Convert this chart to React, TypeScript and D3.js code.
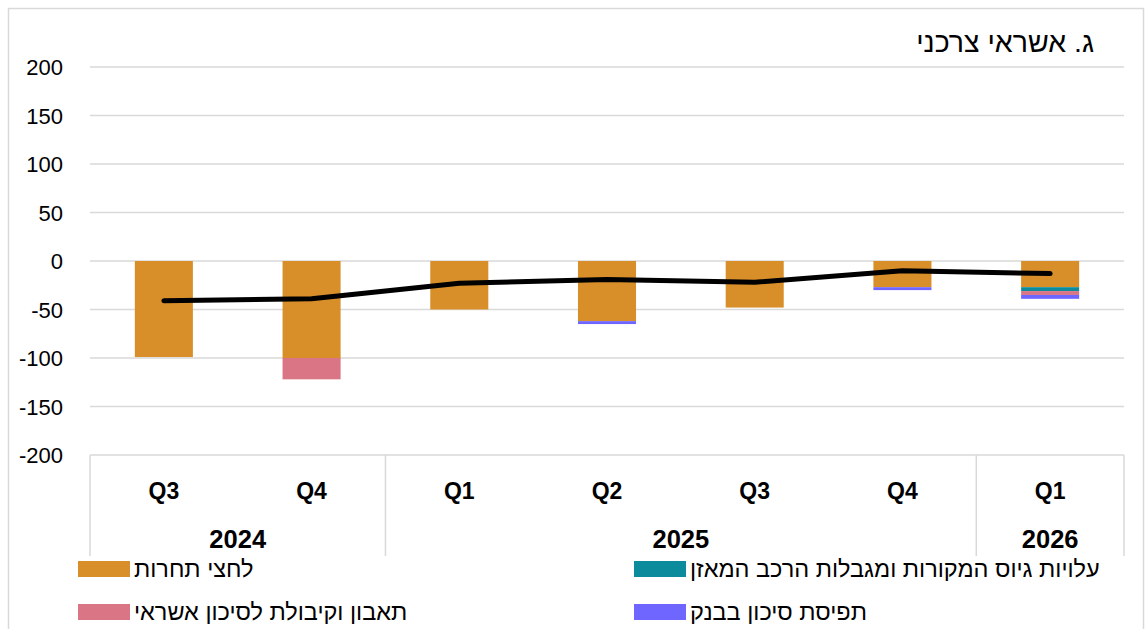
import React from 'react';
import * as d3 from 'd3';

const quarters = ['Q3', 'Q4', 'Q1', 'Q2', 'Q3', 'Q4', 'Q1'];
const years = ['2024', '2024', '2025', '2025', '2025', '2025', '2026'];

const competition = [-99, -100, -50, -62, -48, -27, -27];
const fundingCosts = [0, 0, 0, 0, 0, 0, -4];
const riskAppetite = [0, -22, 0, 0, 0, 0, -4];
const riskPerception = [0, 0, 0, -3, 0, -3, -4];
const total = [-41, -39, -23, -19, -22, -10, -13];

const seriesNames = [
  'לחצי תחרות',
  'עלויות גיוס המקורות ומגבלות הרכב המאזן',
  'תאבון וקיבולת לסיכון אשראי',
  'תפיסת סיכון בבנק',
];
const seriesColors = ['#D88F2A', '#0C8B9C', '#D97585', '#6F66FF'];
const yTicks = [200, 150, 100, 50, 0, -50, -100, -150, -200];
const title = 'ג. אשראי צרכני';

const W = 1146;
const H = 629;
const plot = { left: 90, right: 1124, top: 67, bottom: 455 };
const font = '"Liberation Sans", Arial, sans-serif';
const gridColor = '#D9D9D9';

type Row = { key: string; a: number; b: number; c: number; d: number };

export default function App() {
  const keys = quarters.map((q, i) => `${years[i]}-${q}`);
  const rows: Row[] = keys.map((k, i) => ({
    key: k,
    a: competition[i],
    b: fundingCosts[i],
    c: riskAppetite[i],
    d: riskPerception[i],
  }));

  const cell = d3.scaleBand<string>().domain(keys).range([plot.left, plot.right]).padding(0);
  const xBar = d3
    .scaleBand<string>()
    .domain(keys)
    .range([plot.left, plot.right])
    .paddingInner(0.607)
    .paddingOuter(0.3035);
  const y = d3.scaleLinear().domain([-200, 200]).range([plot.bottom, plot.top]);

  const stacked = d3
    .stack<Row>()
    .keys(['a', 'b', 'c', 'd'])
    .offset(d3.stackOffsetDiverging)(rows);

  const line = d3
    .line<number>()
    .x((_, i) => (cell(keys[i]) ?? 0) + cell.bandwidth() / 2)
    .y((d) => y(d));

  // year groups
  const groups: { year: string; start: number; end: number }[] = [];
  years.forEach((yr, i) => {
    const last = groups[groups.length - 1];
    if (last && last.year === yr) last.end = i;
    else groups.push({ year: yr, start: i, end: i });
  });

  const catY = 499;
  const yearY = 548;

  return (
    <svg
      width={W}
      height={H}
      style={{ position: 'absolute', left: 0, top: 0, background: '#fff' }}
      fontFamily={font}
    >
      <rect x={8.5} y={8.5} width={1135} height={700} fill="#fff" stroke={gridColor} strokeWidth={1.5} />

      <text x={1094} y={52} fontSize={28.5} textAnchor="end" fill="#000">
        {title}
      </text>

      {yTicks.map((t) => (
        <g key={t}>
          <line x1={plot.left} x2={plot.right} y1={y(t)} y2={y(t)} stroke={gridColor} strokeWidth={1.5} />
          <text x={63} y={y(t) + 8} fontSize={22} textAnchor="end" fill="#000">
            {t}
          </text>
        </g>
      ))}

      {stacked.map((s, si) => (
        <g key={s.key} fill={seriesColors[si]}>
          {s.map((d, i) =>
            d[1] - d[0] !== 0 ? (
              <rect
                key={i}
                x={xBar(keys[i])}
                width={xBar.bandwidth()}
                y={y(Math.max(d[0], d[1]))}
                height={Math.abs(y(d[0]) - y(d[1]))}
              />
            ) : null,
          )}
        </g>
      ))}

      <path d={line(total) ?? ''} fill="none" stroke="#000" strokeWidth={5} strokeLinecap="round" strokeLinejoin="round" />

      {/* category axis */}
      {quarters.map((q, i) => (
        <text
          key={i}
          x={(cell(keys[i]) ?? 0) + cell.bandwidth() / 2}
          y={catY}
          fontSize={23}
          fontWeight="bold"
          textAnchor="middle"
        >
          {q}
        </text>
      ))}
      {groups.map((g) => {
        const x0 = cell(keys[g.start]) ?? 0;
        const x1 = (cell(keys[g.end]) ?? 0) + cell.bandwidth();
        return (
          <g key={g.year}>
            <line x1={x0} x2={x0} y1={plot.bottom} y2={556} stroke={gridColor} strokeWidth={1.5} />
            <text x={(x0 + x1) / 2} y={yearY} fontSize={25.5} fontWeight="bold" textAnchor="middle">
              {g.year}
            </text>
          </g>
        );
      })}
      <line x1={plot.right} x2={plot.right} y1={plot.bottom} y2={556} stroke={gridColor} strokeWidth={1.5} />

      {/* legend */}
      {seriesNames.map((name, i) => {
        const col = i === 0 || i === 2 ? 0 : 1;
        const row = i < 2 ? 0 : 1;
        const lx = col === 0 ? 78 : 634;
        const ly = row === 0 ? 561 : 604;
        return (
          <g key={name}>
            <rect x={lx} y={ly} width={52} height={16} fill={seriesColors[i]} />
            <text x={lx + 56} y={ly + 16} fontSize={23.5} textAnchor="start" fill="#000">
              {name}
            </text>
          </g>
        );
      })}
    </svg>
  );
}
